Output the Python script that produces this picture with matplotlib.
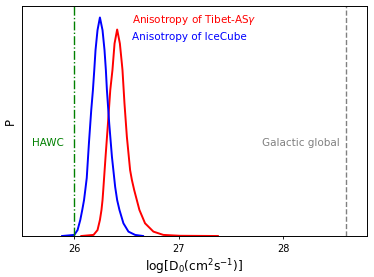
import matplotlib
matplotlib.use("Agg")
import matplotlib.pyplot as plt

# curves (log D0, P normalised to the IceCube peak)
logd_icecube = [25.883, 26.000, 26.031, 26.057, 26.076, 26.093, 26.105, 26.119, 26.140,
                26.162, 26.178, 26.191, 26.203, 26.222, 26.245, 26.270, 26.289, 26.302,
                26.312, 26.334, 26.360, 26.391, 26.410, 26.432, 26.470, 26.518, 26.582,
                26.658]
p_icecube = [0.0, 0.005, 0.027, 0.073, 0.119, 0.164, 0.210, 0.265, 0.425,
             0.575, 0.666, 0.758, 0.849, 0.940, 0.998, 0.940, 0.849, 0.758,
             0.666, 0.514, 0.362, 0.224, 0.164, 0.119, 0.058, 0.020, 0.005,
             0.0]

logd_tibet = [26.067, 26.184, 26.222, 26.245, 26.260, 26.270, 26.277, 26.299, 26.322,
              26.344, 26.365, 26.385, 26.410, 26.436, 26.455, 26.461, 26.480, 26.503,
              26.534, 26.551, 26.573, 26.623, 26.677, 26.757, 26.852, 27.011, 27.374]
p_tibet = [0.0, 0.005, 0.027, 0.073, 0.119, 0.164, 0.210, 0.362, 0.514,
           0.666, 0.758, 0.879, 0.943, 0.879, 0.788, 0.758, 0.606, 0.453,
           0.301, 0.256, 0.210, 0.119, 0.058, 0.020, 0.005, 0.001, 0.0]

hawc_d0 = 26.0
galactic_d0 = 28.6
xticks = [26, 27, 28]

fig = plt.figure(figsize=(3.74, 2.77), dpi=100)
ax = fig.add_subplot(111)
fig.subplots_adjust(left=0.059, right=0.981, bottom=0.148, top=0.978)

ax.plot(logd_tibet, p_tibet, color='r', lw=1.4, solid_joinstyle='round')
ax.plot(logd_icecube, p_icecube, color='b', lw=1.4, solid_joinstyle='round')
ax.axvline(hawc_d0, color='g', ls='-.', lw=1.0)
ax.axvline(galactic_d0, color='gray', ls='--', lw=1.0)

ax.text(0.32, 0.939, r'Anisotropy of Tibet-AS$\gamma$', color='r', fontsize=7.5,
        transform=ax.transAxes, va='center')
ax.text(0.32, 0.867, 'Anisotropy of IceCube', color='b', fontsize=7.5,
        transform=ax.transAxes, va='center')
ax.text(0.03, 0.405, 'HAWC', color='g', fontsize=7.5, transform=ax.transAxes, va='center')
ax.text(0.695, 0.405, 'Galactic global', color='gray', fontsize=7.5,
        transform=ax.transAxes, va='center')

ax.set_xlim(25.5, 28.8)
ax.set_ylim(0, 1.05)
ax.set_xticks(xticks)
ax.set_yticks([])
ax.tick_params(labelsize=7, length=2.5, width=0.6)
ax.set_xlabel(r'$\log[\mathrm{D_0(cm^2s^{-1})}]$', fontsize=8.8, labelpad=2)
ax.set_ylabel('P', fontsize=8.5, labelpad=4)
for s in ax.spines.values():
    s.set_linewidth(0.7)

fig.savefig('out.png', dpi=100)
